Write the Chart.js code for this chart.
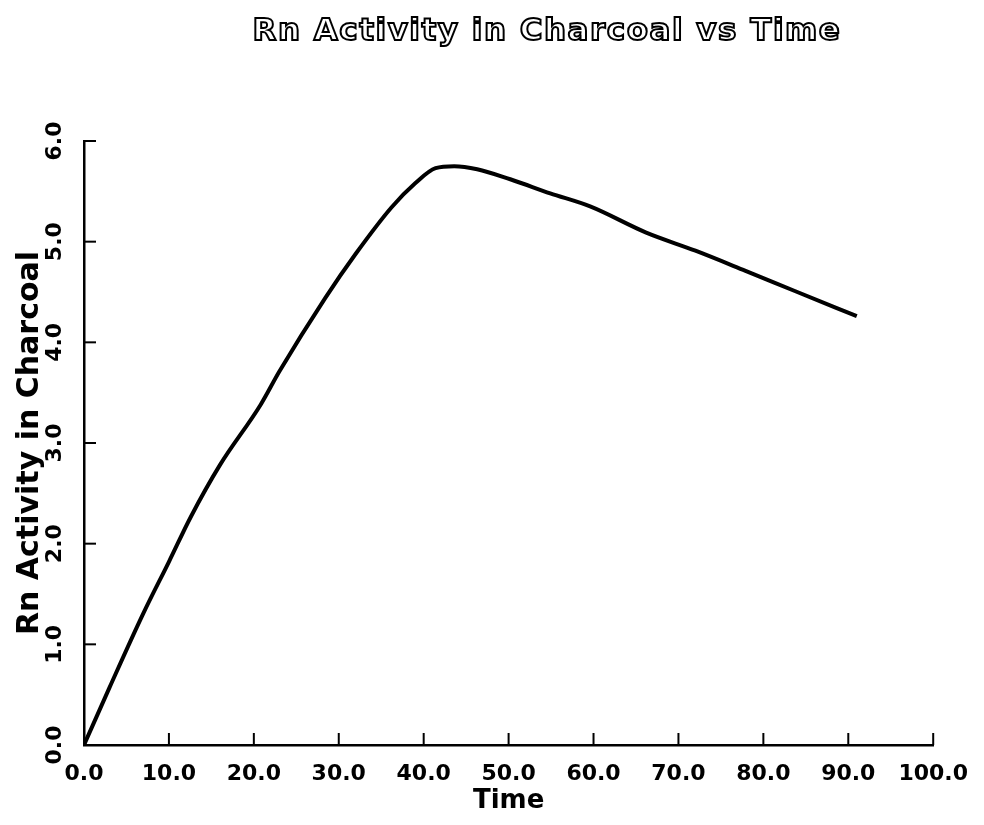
<!DOCTYPE html>
<html>
<head>
<meta charset="utf-8">
<script src="https://cdn.jsdelivr.net/npm/chart.js@4/dist/chart.umd.min.js"></script>
<style>
  html, body { margin: 0; padding: 0; background: #fff; }
  #wrap { width: 984px; height: 825px; position: relative; }
</style>
</head>
<body>
<div id="wrap"><canvas id="canvas"></canvas></div>
<script>
var chartTitle = 'Rn Activity in Charcoal vs Time';
var xTitle = 'Time';
var yTitle = 'Rn Activity in Charcoal';

var timeValues = [0, 3, 7, 10, 12.6, 16, 20.8, 23, 28.4, 32, 36.2, 39, 41.4, 43.6, 46.3, 50.2, 54.9, 59.6, 66.2, 72, 77.9, 83.7, 91];
var activityValues = [0, 0.57, 1.31, 1.82, 2.27, 2.78, 3.38, 3.71, 4.44, 4.88, 5.34, 5.58, 5.73, 5.75, 5.72, 5.62, 5.48, 5.35, 5.09, 4.91, 4.71, 4.51, 4.26];

var xMin = 0, xMax = 100, xStep = 10;
var yMin = 0, yMax = 6, yStep = 1;

var points = timeValues.map(function(t, i) {
    return { x: t, y: activityValues[i] };
});

var fontFamily = '"DejaVu Sans", "Liberation Sans", sans-serif';

// little tick marks pointing into the plot, plus the outlined title
var inwardTicks = {
    id: 'inwardTicks',
    afterDraw: function(chart) {
        var ctx = chart.ctx;
        var area = chart.chartArea;
        var xs = chart.scales.x, ys = chart.scales.y;
        ctx.save();
        ctx.strokeStyle = '#000';
        ctx.lineWidth = 2;
        xs.ticks.forEach(function(t) {
            var px = xs.getPixelForValue(t.value);
            ctx.beginPath();
            ctx.moveTo(px, area.bottom);
            ctx.lineTo(px, area.bottom - 12);
            ctx.stroke();
        });
        ys.ticks.forEach(function(t) {
            var py = ys.getPixelForValue(t.value);
            ctx.beginPath();
            ctx.moveTo(area.left, py);
            ctx.lineTo(area.left + 12, py);
            ctx.stroke();
        });

        ctx.font = 'bold 31px ' + fontFamily;
        ctx.letterSpacing = '1.5px';
        ctx.textAlign = 'center';
        ctx.textBaseline = 'alphabetic';
        ctx.lineWidth = 2;
        ctx.strokeText(chartTitle, 547, 40);
        ctx.restore();
    }
};

var config = {
    type: 'line',
    data: {
        datasets: [{
            label: yTitle,
            data: points,
            borderColor: '#000',
            borderWidth: 4,
            pointRadius: 0,
            fill: false,
            cubicInterpolationMode: 'monotone'
        }]
    },
    options: {
        responsive: true,
        maintainAspectRatio: false,
        animation: false,
        layout: {
            padding: { top: 141, right: 46, bottom: 0, left: 0 }
        },
        plugins: {
            legend: { display: false },
            title: { display: false },
            tooltip: { enabled: false }
        },
        scales: {
            x: {
                type: 'linear',
                min: xMin,
                max: xMax,
                grid: { display: false, drawTicks: false },
                border: { display: true, color: '#000', width: 2.5 },
                ticks: {
                    stepSize: xStep,
                    color: '#000',
                    padding: 16,
                    maxRotation: 0,
                    font: { family: fontFamily, size: 22, weight: 'bold' },
                    callback: function(v) { return v.toFixed(1); }
                },
                title: {
                    display: true,
                    text: xTitle,
                    color: '#000',
                    padding: { top: 0, bottom: 8 },
                    font: { family: fontFamily, size: 26, weight: 'bold' }
                },
                afterFit: function(scale) { scale.height = 80; }
            },
            y: {
                type: 'linear',
                min: yMin,
                max: yMax,
                grid: { display: false, drawTicks: false },
                border: { display: true, color: '#000', width: 2.5 },
                ticks: {
                    stepSize: yStep,
                    color: '#000',
                    padding: 9,
                    minRotation: 90,
                    maxRotation: 90,
                    crossAlign: 'center',
                    font: { family: fontFamily, size: 22, weight: 'bold' },
                    callback: function(v) { return v.toFixed(1); }
                },
                title: {
                    display: true,
                    text: yTitle,
                    color: '#000',
                    padding: { top: 12, bottom: 0 },
                    font: { family: fontFamily, size: 30, weight: 'bold' }
                },
                afterFit: function(scale) { scale.width = 84; }
            }
        }
    },
    plugins: [inwardTicks]
};

var ctx = document.getElementById('canvas').getContext('2d');
window.rnChart = new Chart(ctx, config);
</script>
</body>
</html>
